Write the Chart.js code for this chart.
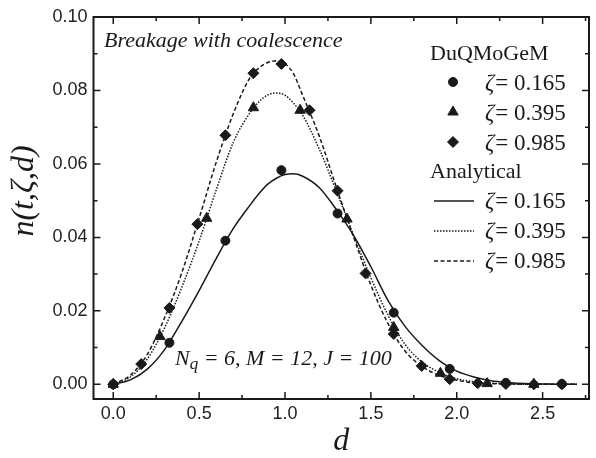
<!DOCTYPE html>
<html>
<head>
<meta charset="utf-8">
<script src="https://cdn.jsdelivr.net/npm/chart.js@4.4.1/dist/chart.umd.min.js"></script>
<style>
  html, body { margin: 0; padding: 0; background: #fff; }
</style>
</head>
<body>
<canvas id="sizeChart" width="596" height="458"></canvas>
<script>
// analytical curves, sampled along d
const dGrid = [0, 0.1, 0.2, 0.3, 0.4, 0.5, 0.6, 0.7, 0.8, 0.85, 0.9, 0.95, 1.0, 1.05, 1.1,
  1.2, 1.3, 1.4, 1.5, 1.6, 1.7, 1.8, 1.9, 2.0, 2.1, 2.2, 2.3, 2.4, 2.5, 2.6, 2.7];
const exact165 = [0, 0.0012, 0.0042, 0.0095, 0.0172, 0.0255, 0.0343, 0.0425, 0.0490, 0.0520, 0.0545,
  0.0561, 0.0571, 0.0573, 0.0567, 0.0535, 0.0475, 0.0405, 0.0320, 0.0228, 0.0157, 0.0105, 0.0064,
  0.0036, 0.0020, 0.0010, 0.0005, 0.0002, 0.0001, 0, 0];
const exact395 = [0, 0.0020, 0.0070, 0.0155, 0.0265, 0.0390, 0.0530, 0.0660, 0.0742, 0.0770, 0.0788,
  0.0793, 0.0787, 0.0765, 0.0735, 0.0640, 0.0525, 0.0405, 0.0290, 0.0188, 0.0108, 0.0060, 0.0032,
  0.0015, 0.0007, 0.0003, 0.0001, 0, 0, 0, 0];
const exact985 = [0, 0.0025, 0.0083, 0.0182, 0.0305, 0.0452, 0.0605, 0.0738, 0.0838, 0.0862, 0.0876,
  0.0881, 0.0873, 0.0845, 0.0790, 0.0675, 0.0535, 0.0400, 0.0270, 0.0165, 0.0090, 0.0048, 0.0024,
  0.0011, 0.0004, 0.0002, 0.0001, 0, 0, 0, 0];

// DuQMoGeM points
const d165 = [0, 0.327, 0.653, 0.979, 1.306, 1.633, 1.959, 2.286, 2.612];
const n165 = [0, 0.0113, 0.0391, 0.0583, 0.0465, 0.0195, 0.0042, 0.0004, 0.0001];
const d395 = [0, 0.272, 0.544, 0.816, 1.088, 1.361, 1.633, 1.905, 2.177, 2.449];
const n395 = [0, 0.0130, 0.0452, 0.0753, 0.0746, 0.0450, 0.0155, 0.0030, 0.0002, 0];
const d985 = [0, 0.163, 0.327, 0.490, 0.653, 0.816, 0.979, 1.143, 1.306, 1.469, 1.633, 1.796,
  1.959, 2.122, 2.286, 2.449, 2.612];
const n985 = [0, 0.0055, 0.0208, 0.0436, 0.0678, 0.0847, 0.0872, 0.0746, 0.0527, 0.0302, 0.0137,
  0.0050, 0.0014, 0.0003, 0.0001, 0, 0];

const zetaValues = ['0.165', '0.395', '0.985'];
const xTickLabels = ['0.0', '0.5', '1.0', '1.5', '2.0', '2.5'];
const yTickLabels = ['0.00', '0.02', '0.04', '0.06', '0.08', '0.10'];

const ink = '#1a1a1a';
const serif = '"Liberation Serif", "Times New Roman", serif';
const sans = '"Liberation Sans", Arial, sans-serif';

const pairs = (xs, ys) => xs.map((x, i) => ({ x: x, y: ys[i] }));
const findLabel = (list, v) => list.find(s => Math.abs(parseFloat(s) - v) < 1e-6) || '';

const markerSet = (xs, ys, style, r) => ({
  data: pairs(xs, ys),
  showLine: false,
  pointStyle: style,
  pointRadius: r,
  pointBackgroundColor: ink,
  pointBorderColor: ink,
  pointBorderWidth: 1
});
const curveSet = (ys, dash, width) => ({
  data: pairs(dGrid, ys),
  showLine: true,
  borderColor: ink,
  borderWidth: width,
  borderDash: dash,
  pointRadius: 0,
  cubicInterpolationMode: 'monotone'
});

const markers = [
  markerSet(d165, n165, 'circle', 4.5),
  markerSet(d395, n395, 'triangle', 6),
  markerSet(d985, n985, 'rectRot', 5.5)
];
const curves = [
  curveSet(exact165, [], 1.5),
  curveSet(exact395, [1.5, 1.5], 1.5),
  curveSet(exact985, [4, 2.5], 1.5)
];

// box around the plot with ticks pointing inwards
const frame = {
  id: 'frame',
  afterDatasetsDraw(chart) {
    const { ctx, chartArea: a, scales: { x, y } } = chart;
    ctx.save();
    ctx.strokeStyle = ink;
    ctx.lineWidth = 2;
    ctx.strokeRect(a.left, a.top, a.right - a.left, a.bottom - a.top);
    ctx.lineWidth = 1.5;
    ctx.beginPath();
    x.ticks.forEach(t => {
      const px = x.getPixelForValue(t.value);
      const len = t.label ? 7 : 4;
      ctx.moveTo(px, a.bottom); ctx.lineTo(px, a.bottom - len);
      ctx.moveTo(px, a.top); ctx.lineTo(px, a.top + len);
    });
    y.ticks.forEach(t => {
      const py = y.getPixelForValue(t.value);
      const len = t.label ? 7 : 4;
      ctx.moveTo(a.left, py); ctx.lineTo(a.left + len, py);
      ctx.moveTo(a.right, py); ctx.lineTo(a.right - len, py);
    });
    ctx.stroke();
    ctx.restore();
  }
};

const zetaText = (ctx, x, base, value) => {
  ctx.font = 'italic 23px ' + serif;
  ctx.fillText('ζ', x, base);
  const w = ctx.measureText('ζ').width;
  ctx.font = '23px ' + serif;
  ctx.fillText('= ' + value, x + w + 1, base);
};

// legend, notes and axis titles
const notes = {
  id: 'notes',
  afterDraw(chart) {
    const ctx = chart.ctx;
    const a = chart.chartArea;
    ctx.save();
    ctx.fillStyle = ink;
    ctx.strokeStyle = ink;
    ctx.textBaseline = 'alphabetic';
    ctx.textAlign = 'left';

    ctx.font = 'italic 22px ' + serif;
    ctx.fillText('Breakage with coalescence', 104, 47);

    ctx.fillText('N', 175, 365);
    let nx = 175 + ctx.measureText('N').width;
    ctx.font = 'italic 17px ' + serif;
    ctx.fillText('q', nx, 369);
    nx += ctx.measureText('q').width;
    ctx.font = 'italic 22px ' + serif;
    ctx.fillText(' = 6, M = 12, J = 100', nx, 365);

    ctx.font = '22px ' + serif;
    ctx.fillText('DuQMoGeM', 430, 60);
    ctx.fillText('Analytical', 430, 178);

    const rowBase = [90, 120, 150];
    markers.forEach((m, i) => {
      Chart.helpers.drawPoint(ctx, {
        pointStyle: m.pointStyle, radius: m.pointRadius, rotation: 0, borderWidth: 1
      }, 453, rowBase[i] - 8);
      ctx.fillStyle = ink;
      zetaText(ctx, 485, rowBase[i], zetaValues[i]);
    });

    const lineBase = [208, 238, 268];
    curves.forEach((c, i) => {
      ctx.save();
      ctx.lineWidth = c.borderWidth;
      ctx.setLineDash(c.borderDash);
      ctx.beginPath();
      ctx.moveTo(434, lineBase[i] - 7);
      ctx.lineTo(474, lineBase[i] - 7);
      ctx.stroke();
      ctx.restore();
      zetaText(ctx, 485, lineBase[i], zetaValues[i]);
    });

    ctx.font = 'italic 32px ' + serif;
    ctx.textAlign = 'center';
    ctx.fillText('d', (a.left + a.right) / 2, 450);

    ctx.translate(33, 191);
    ctx.rotate(-Math.PI / 2);
    ctx.fillText('n(t,ζ,d)', 0, 0);
    ctx.restore();
  }
};

new Chart(document.getElementById('sizeChart'), {
  type: 'scatter',
  data: { datasets: markers.concat(curves) },
  options: {
    responsive: false,
    animation: false,
    devicePixelRatio: 1,
    layout: { padding: { top: 17, right: 2, left: 0, bottom: 0 } },
    plugins: { legend: { display: false }, tooltip: { enabled: false } },
    scales: {
      x: {
        type: 'linear',
        min: -0.115,
        max: 2.77,
        grid: { display: false, drawTicks: false },
        border: { display: false },
        ticks: {
          stepSize: 0.25,
          includeBounds: false,
          autoSkip: false,
          maxRotation: 0,
          padding: 4,
          color: '#222',
          font: { family: sans, size: 18 },
          callback: v => findLabel(xTickLabels, v)
        },
        afterFit: s => { s.height = 59; }
      },
      y: {
        type: 'linear',
        min: -0.004,
        max: 0.10,
        grid: { display: false, drawTicks: false },
        border: { display: false },
        ticks: {
          stepSize: 0.01,
          includeBounds: false,
          autoSkip: false,
          padding: 6,
          color: '#222',
          font: { family: sans, size: 18 },
          callback: v => findLabel(yTickLabels, v)
        },
        afterFit: s => { s.width = 93.5; }
      }
    }
  },
  plugins: [frame, notes]
});
</script>
</body>
</html>
